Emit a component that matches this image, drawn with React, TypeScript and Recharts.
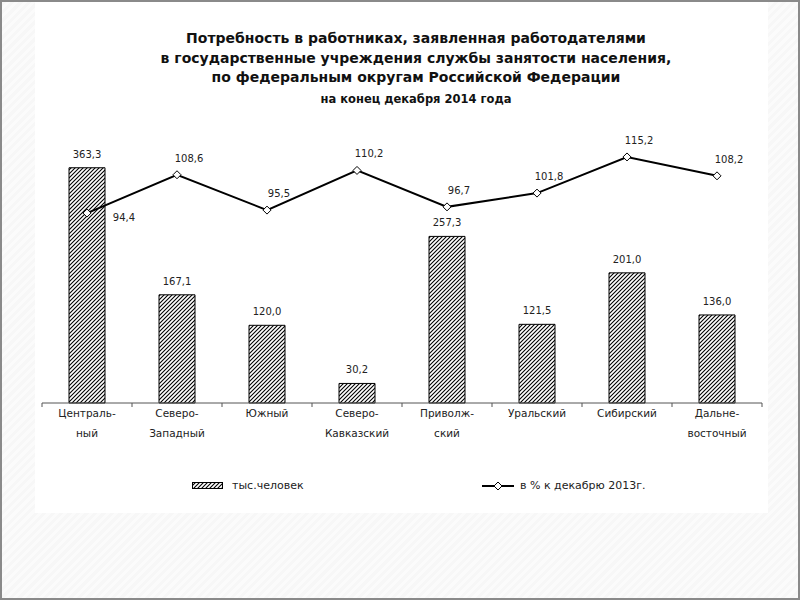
import {
  Bar,
  ComposedChart,
  LabelList,
  Legend,
  Line,
  XAxis,
  YAxis,
} from 'recharts';

const categories: string[][] = [
  ['Централь-', 'ный'],
  ['Северо-', 'Западный'],
  ['Южный'],
  ['Северо-', 'Кавказский'],
  ['Приволж-', 'ский'],
  ['Уральский'],
  ['Сибирский'],
  ['Дальне-', 'восточный'],
];
const persons = [363.3, 167.1, 120.0, 30.2, 257.3, 121.5, 201.0, 136.0];
const percentOfDec2013 = [94.4, 108.6, 95.5, 110.2, 96.7, 101.8, 115.2, 108.2];

const titleLines = [
  'Потребность в работниках, заявленная работодателями',
  'в государственные учреждения службы занятости населения,',
  'по федеральным округам Российской Федерации',
];
const subtitle = 'на конец декабря 2014 года';
const barName = 'тыс.человек';
const lineName = 'в % к декабрю 2013г.';

const data = categories.map((c, i) => ({
  name: c.join(' '),
  persons: persons[i],
  pct: percentOfDec2013[i],
}));

const FONT = '"DejaVu Sans", sans-serif';
const fmt = (v: number) => v.toFixed(1).replace('.', ',');

const CategoryTick = ({ x, y, payload, index }: any) => {
  const lines = categories[index] || [];
  const half = payload?.offset || 45;
  const axisY = y - 8;
  return (
    <g>
      <line x1={x - half} x2={x - half} y1={axisY} y2={axisY + 4} stroke="#555" />
      {index === categories.length - 1 && (
        <line x1={x + half} x2={x + half} y1={axisY} y2={axisY + 4} stroke="#555" />
      )}
      {lines.map((t, i) => (
        <text
          key={i}
          x={x}
          y={axisY + 14 + i * 20}
          textAnchor="middle"
          fontSize={10.5}
          fontFamily={FONT}
          fill="#222"
        >
          {t}
        </text>
      ))}
    </g>
  );
};

const Diamond = ({ cx, cy }: any) => {
  if (cx == null || cy == null) return null;
  return (
    <polygon
      points={`${cx},${cy - 4} ${cx + 4},${cy} ${cx},${cy + 4} ${cx - 4},${cy}`}
      fill="#fff"
      stroke="#000"
      strokeWidth={1}
    />
  );
};

const LineLabel = ({ x, y, value, index }: any) => {
  const first = index === 0;
  return (
    <text
      x={first ? x + 37 : x + 12}
      y={first ? y + 8 : y - 13}
      textAnchor="middle"
      fontSize={10}
      fontFamily={FONT}
      fill="#222"
    >
      {fmt(value)}
    </text>
  );
};

const LegendContent = () => (
  <div style={{ position: 'relative', width: 733, height: 20, fontFamily: FONT, fontSize: 11, color: '#222' }}>
    <svg style={{ position: 'absolute', left: 157, top: 4 }} width={32} height={8}>
      <rect x={0.5} y={0.5} width={30} height={6} fill="url(#hatch)" stroke="#000" />
    </svg>
    <span style={{ position: 'absolute', left: 197, top: 1 }}>{barName}</span>
    <svg style={{ position: 'absolute', left: 446, top: 1 }} width={34} height={14}>
      <line x1={1} x2={33} y1={7} y2={7} stroke="#000" strokeWidth={2} />
      <polygon points="17,3 21,7 17,11 13,7" fill="#fff" stroke="#000" />
    </svg>
    <span style={{ position: 'absolute', left: 485, top: 1 }}>{lineName}</span>
  </div>
);

export default function App() {
  return (
    <div
      style={{
        position: 'absolute',
        left: 0,
        top: 0,
        width: 800,
        height: 600,
        boxSizing: 'border-box',
        border: '2px solid #8a8a8a',
        background: 'repeating-linear-gradient(135deg, #f7f7f7 0 3px, #fbfbfb 3px 6px)',
        overflow: 'hidden',
      }}
    >
      <svg width={0} height={0} style={{ position: 'absolute' }}>
        <defs>
          <pattern id="hatch" patternUnits="userSpaceOnUse" width={4} height={4}>
            <rect width={4} height={4} fill="#fff" />
            <path d="M-1,1 l2,-2 M0,4 l4,-4 M3,5 l2,-2" stroke="#000" strokeWidth={1.1} />
          </pattern>
        </defs>
      </svg>
      <div style={{ position: 'absolute', left: 33, top: -2, width: 733, height: 513, background: '#fff' }}>
        <div
          style={{
            position: 'absolute',
            left: 81,
            top: 29,
            width: 600,
            textAlign: 'center',
            fontFamily: FONT,
            fontWeight: 'bold',
            color: '#111',
          }}
        >
          {titleLines.map((t, i) => (
            <div key={i} style={{ fontSize: 14, lineHeight: '19.5px' }}>
              {t}
            </div>
          ))}
          <div style={{ fontSize: 11.5, lineHeight: '22px' }}>{subtitle}</div>
        </div>
        <ComposedChart
          width={733}
          height={513}
          data={data}
          margin={{ top: 144, right: 6, left: 7, bottom: 0 }}
          barCategoryGap="30%"
          style={{ position: 'absolute', left: 0, top: 0 }}
        >
          <XAxis
            dataKey="name"
            height={90}
            tickLine={false}
            axisLine={{ stroke: '#555' }}
            tick={<CategoryTick />}
            interval={0}
          />
          <YAxis yAxisId="left" hide domain={[0, 400]} />
          <YAxis yAxisId="right" orientation="right" hide domain={[24, 120]} />
          <Legend
            content={<LegendContent />}
            wrapperStyle={{ position: 'absolute', left: 0, top: 478, width: 733, height: 20 }}
          />
          <Bar
            yAxisId="left"
            dataKey="persons"
            name={barName}
            fill="url(#hatch)"
            stroke="#000"
            strokeWidth={1}
            isAnimationActive={false}
          >
            <LabelList
              dataKey="persons"
              position="top"
              offset={10}
              formatter={(v: any) => fmt(Number(v))}
              style={{ fontSize: 10, fontFamily: FONT, fill: '#222' }}
            />
          </Bar>
          <Line
            yAxisId="right"
            dataKey="pct"
            name={lineName}
            stroke="#000"
            strokeWidth={2}
            dot={<Diamond />}
            activeDot={false}
            isAnimationActive={false}
          >
            <LabelList dataKey="pct" content={<LineLabel />} />
          </Line>
        </ComposedChart>
      </div>
    </div>
  );
}
